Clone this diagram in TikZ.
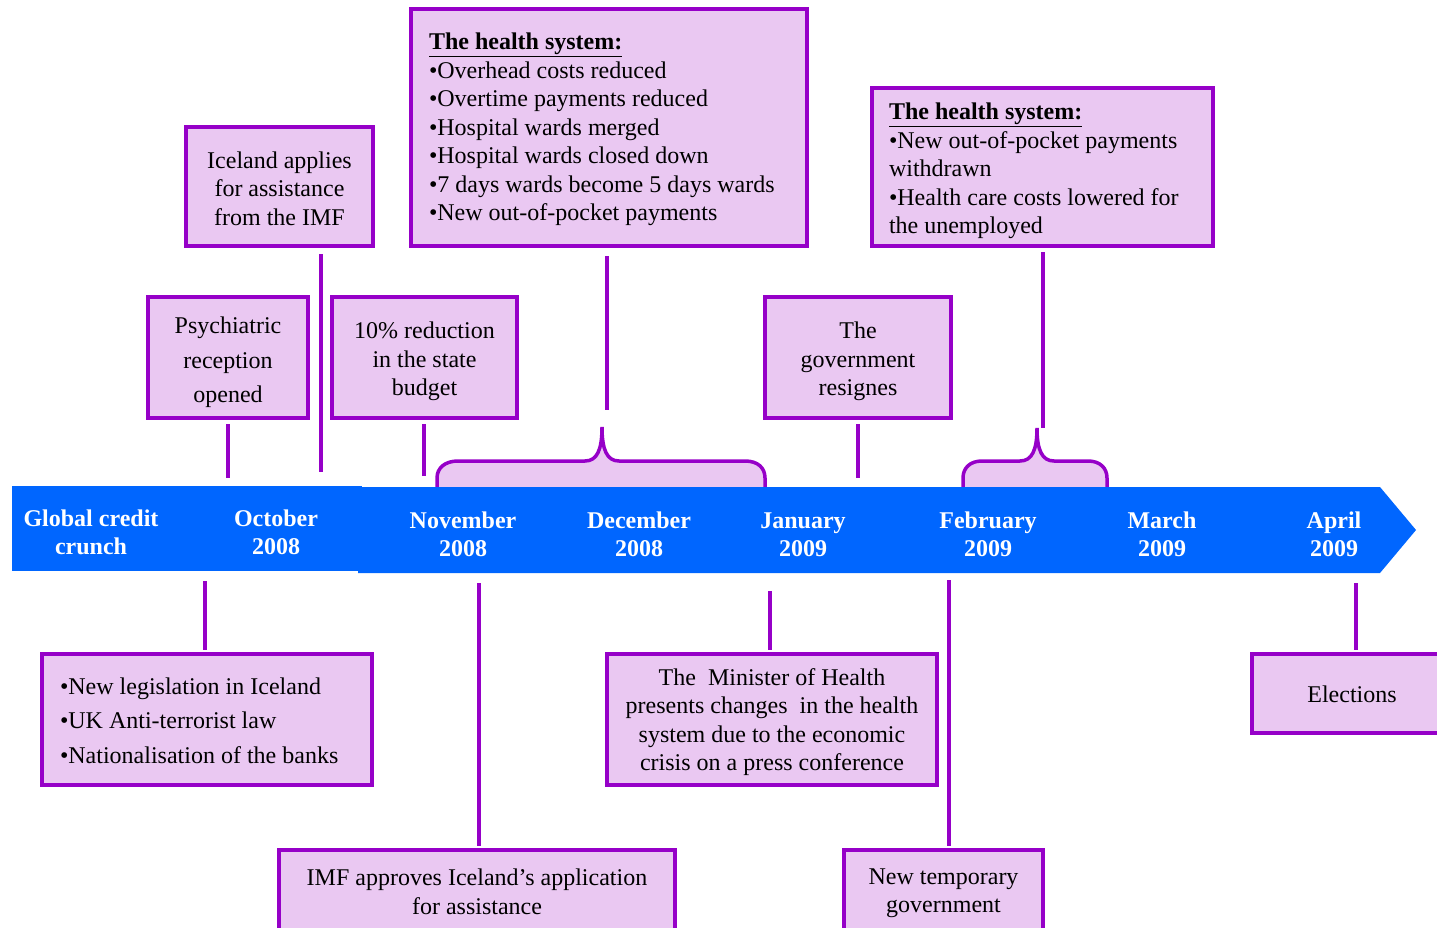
\documentclass[tikz,border=0pt]{standalone}
\usepackage{fontspec}
\setmainfont{Liberation Serif}
\definecolor{boxfill}{RGB}{234,200,242}
\definecolor{boxline}{RGB}{150,0,200}
\definecolor{arrowblue}{RGB}{0,102,255}
\newcommand\myup[1]{\rule{0pt}{#1pt}}
\begin{document}
\begin{tikzpicture}[x=1pt,y=-1pt,
  box/.style={draw=boxline, line width=4.5pt, fill=boxfill, inner sep=0pt, font=\fontsize{24}{28.5}\selectfont},
  wide/.style={font=\fontsize{24}{34.5}\selectfont},
  conn/.style={draw=boxline, line width=4pt},
  bracefill/.style={fill=boxfill},
  braceline/.style={draw=boxline, line width=3.5pt},
  lbl/.style={text=white, font=\fontsize{24}{28}\selectfont\bfseries, align=center, inner sep=0pt}]
\useasboundingbox (0,0) rectangle (1437,928);
\clip (0,0) rectangle (1437,928);

% braces (behind the arrow)
\fill[bracefill] (437,490) -- (437,478) .. controls (437,468) and (445,461) .. (458,461) -- (585,461)
  .. controls (597,461) and (602,450) .. (602,427) .. controls (602,450) and (607,461) .. (619,461)
  -- (745,461) .. controls (758,461) and (765,468) .. (765,478) -- (765,490) -- cycle;
\draw[braceline] (437,490) -- (437,478) .. controls (437,468) and (445,461) .. (458,461) -- (585,461)
  .. controls (597,461) and (602,450) .. (602,427) .. controls (602,450) and (607,461) .. (619,461)
  -- (745,461) .. controls (758,461) and (765,468) .. (765,478) -- (765,490);
\fill[bracefill] (963,490) -- (963,478) .. controls (963,468) and (970,461) .. (982,461) -- (1020,461)
  .. controls (1032,461) and (1037,450) .. (1037,428) .. controls (1037,450) and (1042,461) .. (1054,461)
  -- (1088,461) .. controls (1100,461) and (1107,468) .. (1107,478) -- (1107,490) -- cycle;
\draw[braceline] (963,490) -- (963,478) .. controls (963,468) and (970,461) .. (982,461) -- (1020,461)
  .. controls (1032,461) and (1037,450) .. (1037,428) .. controls (1037,450) and (1042,461) .. (1054,461)
  -- (1088,461) .. controls (1100,461) and (1107,468) .. (1107,478) -- (1107,490);

% timeline arrow
\fill[arrowblue] (12,486) rectangle (362,571);
\fill[arrowblue] (358,487) -- (1380,487) -- (1416,530) -- (1380,573) -- (358,573) -- cycle;

\node[lbl] (gcc) at (91,532) {Global credit\\crunch};
\node[lbl] (oct) at (276,532) {October\\2008};
\node[lbl] (nov) at (463,534) {November\\2008};
\node[lbl] (dec) at (639,534) {December\\2008};
\node[lbl] (jan) at (803,535) {January\\2009};
\node[lbl] (feb) at (988,534) {February\\2009};
\node[lbl] (mar) at (1162,534) {March\\2009};
\node[lbl] (apr) at (1334,534) {April\\2009};

% upper boxes
\node[box, minimum width=187, minimum height=119, align=center] (iceland) at (279.5,186.5)
  {\myup{20.5}Iceland applies\\for assistance\\from the IMF};
\node[box, wide, minimum width=160, minimum height=121, align=center] (psych) at (228,357.5)
  {\myup{26.5}Psychiatric\\reception\\opened};
\node[box, minimum width=185, minimum height=121, align=center] (budget) at (424.5,357.5)
  {\myup{24.5}10\% reduction\\in the state\\budget};
\node[box, minimum width=396, minimum height=237, text width=360, align=flush left] (health1) at (609,127.5)
  {\myup{21}\underline{\textbf{The health system:}}\\•Overhead costs reduced\\•Overtime payments reduced\\•Hospital wards merged\\•Hospital wards closed down\\•7 days wards become 5 days wards\\•New out-of-pocket payments};
\node[box, minimum width=186, minimum height=121, align=center] (gov) at (858,357.5)
  {\myup{24.5}The\\government\\resignes};
\node[box, minimum width=341, minimum height=158, text width=307, align=flush left] (health2) at (1042.5,167)
  {\myup{25}\underline{\textbf{The health system:}}\\•New out-of-pocket payments\\withdrawn\\•Health care costs lowered for\\the unemployed};

% lower boxes
\node[box, wide, minimum width=330, minimum height=131, text width=294, align=flush left] (legis) at (207,719.5)
  {\myup{19}•New legislation in Iceland\\•UK Anti-terrorist law\\•Nationalisation of the banks};
\node[box, minimum width=330, minimum height=131, align=center] (minister) at (772,719.5)
  {\myup{22.5}The\ \ Minister of Health\\presents changes\ \ in the health\\system due to the economic\\crisis on a press conference};
\node[box, minimum width=396, minimum height=82, align=center] (imf) at (477,891)
  {\myup{18.5}IMF approves Iceland’s application\\for assistance};
\node[box, minimum width=199, minimum height=82, align=center] (newgov) at (943.5,891)
  {\myup{20.5}New temporary\\government};
\node[box, minimum width=200, minimum height=79, align=center] (elect) at (1352,693.5)
  {\myup{19}Elections};

% connector ends on the timeline
\coordinate (t1) at (321,472);
\coordinate (t2) at (228,478);
\coordinate (t3) at (424,476);
\coordinate (t4) at (607,410);
\coordinate (t5) at (858,478);
\coordinate (t6) at (1043,428);
\coordinate (b1) at (205,581);
\coordinate (b2) at (479,583);
\coordinate (b3) at (770,591);
\coordinate (b4) at (949,580);
\coordinate (b5) at (1356,583);

\draw[conn, shorten <=6pt] (iceland.south -| t1) -- (t1);
\draw[conn, shorten <=4pt] (psych.south -| t2) -- (t2);
\draw[conn, shorten <=4pt] (budget.south -| t3) -- (t3);
\draw[conn, shorten <=8pt] (health1.south -| t4) -- (t4);
\draw[conn, shorten <=4pt] (gov.south -| t5) -- (t5);
\draw[conn, shorten <=4pt] (health2.south -| t6) -- (t6);
\draw[conn, shorten <=2pt] (legis.north -| b1) -- (b1);
\draw[conn, shorten <=2pt] (imf.north -| b2) -- (b2);
\draw[conn, shorten <=2pt] (minister.north -| b3) -- (b3);
\draw[conn, shorten <=2pt] (newgov.north -| b4) -- (b4);
\draw[conn, shorten <=2pt] (elect.north -| b5) -- (b5);
\end{tikzpicture}
\end{document}
